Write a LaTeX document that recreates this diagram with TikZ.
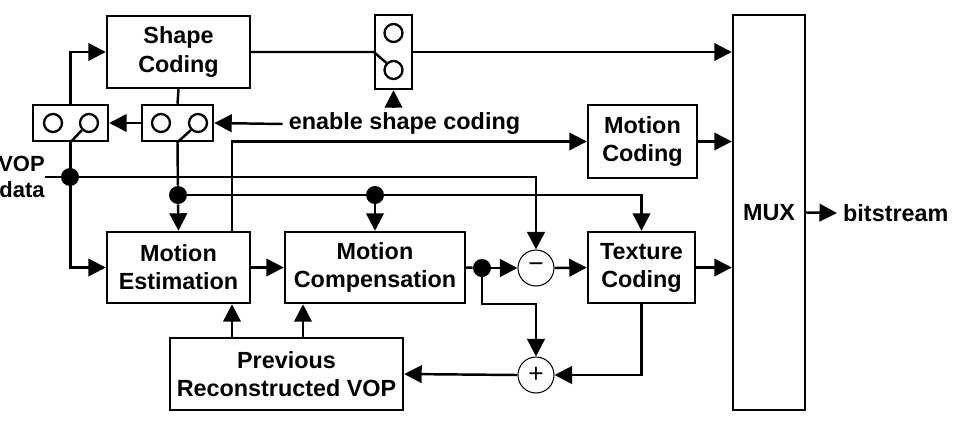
\documentclass[tikz,border=0pt]{standalone}
\usepackage{fontspec}
\setmainfont{Liberation Sans}
\usetikzlibrary{arrows.meta,positioning}
\definecolor{EncInk}{RGB}{0,0,0}
\tikzset{
  enc/box/.style={
    draw=EncInk,
    line width=1.4pt,
    fill=white,
    align=center,
    text=EncInk,
    inner sep=0pt,
    font=\bfseries\fontsize{13.3}{16}\selectfont
  },
  enc/switch/.style={
    draw=EncInk,
    line width=1.4pt,
    fill=white,
    inner sep=0pt
  },
  enc/contact/.style={circle, draw=EncInk, line width=1.3pt, fill=white, minimum size=0.36cm, inner sep=0pt},
  enc/dot/.style={circle, fill=EncInk, minimum size=0.36cm, inner sep=0pt},
  enc/sum/.style={circle, draw=EncInk, line width=0.6pt, fill=white, minimum size=0.72cm, inner sep=0pt, font=\fontsize{15}{15}\selectfont},
  enc/label/.style={font=\bfseries\fontsize{13.3}{16}\selectfont, text=EncInk},
  enc/arrow/.style={-{Triangle[length=0.35cm,width=0.35cm]}, line width=1.4pt, draw=EncInk},
  enc/line/.style={line width=1.4pt, draw=EncInk}
}

\begin{document}
\begin{tikzpicture}[x=0.02cm,y=-0.02cm]
  \useasboundingbox (0,0) rectangle (967,420);

  % blocks
  \node[enc/box, minimum width=2.86cm, minimum height=1.44cm] (sc)  at (178.5,52)  {Shape\\Coding};
  \node[enc/box, minimum width=2.18cm, minimum height=1.46cm] (moc) at (642.5,141.5) {Motion\\Coding};
  \node[enc/box, minimum width=2.86cm, minimum height=1.42cm] (me)  at (178.5,267.5) {Motion\\Estimation};
  \node[enc/box, minimum width=3.60cm, minimum height=1.42cm] (mc)  at (375,267.5) {Motion\\Compensation};
  \node[enc/box, minimum width=2.14cm, minimum height=1.42cm] (tc)  at (641.5,267.5) {Texture\\Coding};
  \node[enc/box, minimum width=4.66cm, minimum height=1.44cm] (prv) at (286.5,374) {Previous\\Reconstructed VOP};
  \node[enc/box, minimum width=1.44cm, minimum height=7.90cm] (mux) at (769,212.5) {MUX};

  % switches
  \node[enc/switch, minimum width=1.50cm, minimum height=0.72cm] (lsw) at (70.5,123) {};
  \node[enc/switch, minimum width=1.42cm, minimum height=0.72cm] (msw) at (177.5,123) {};
  \node[enc/switch, minimum width=0.74cm, minimum height=1.48cm] (tsw) at (393.5,52) {};
  \foreach \name/\x/\y in {lswa/53/123,lswb/89/123,mswa/161/123,mswb/198/123,tswa/393.5/33,tswb/393.5/70}
  {\node[enc/contact] (\name) at (\x,\y) {};}

  % adders and taps
  \node[enc/sum] (minus) at (536,268) {−};
  \node[enc/sum] (plus)  at (536,375) {+};
  \node[enc/dot] (d1) at (70,177) {};
  \node[enc/dot] (d2) at (178,195) {};
  \node[enc/dot] (d3) at (375,195) {};
  \node[enc/dot] (d4) at (482,268) {};
  \coordinate (c1) at (232,0);
  \coordinate (c2) at (303,0);

  % texts
  \node[enc/label, font=\bfseries\fontsize{12.5}{15}\selectfont, align=right, anchor=east, inner xsep=0pt] (vop) at (45,177) {VOP\\data};
  \node[enc/label] (lbl) at (404.5,124) {enable shape coding};
  \node[enc/label, anchor=west] (bits) at (837,213) {bitstream};

  % shape path
  \draw[enc/arrow] (lsw.north) |- (sc.west);
  \draw[enc/line] (sc.south) -- (msw.north);
  \draw[enc/arrow] (msw.west) -- (lsw.east);
  \draw[enc/arrow] (lbl.west) -- (msw.east);
  \draw[enc/arrow] (lbl.north -| tsw.south) -- (tsw.south);
  \draw[enc/line] (lswb.225) -- (lsw.south);
  \draw[enc/line] (mswb.225) -- (msw.south);
  \draw[enc/line] (sc.east) -- (tsw.west) -- (tswb.135);
  \draw[enc/arrow] (tsw.east) -- (tsw.east -| mux.west);

  % motion and texture path
  \draw[enc/arrow] (lsw.south) |- (me.west);
  \draw[enc/line] (msw.south) -- (d2);
  \draw[enc/arrow] (d2) -- (me.north);
  \draw[enc/arrow] (d2) -| (tc.north);
  \draw[enc/arrow] (d3) -- (mc.north);
  \draw[enc/arrow] (vop.east) -| (minus.north);
  \draw[enc/arrow] (me.north -| c1) |- (moc.west);
  \draw[enc/arrow] (moc.east) -- (moc.east -| mux.west);
  \draw[enc/arrow] (me.east) -- (mc.west);
  \draw[enc/line] (mc.east) -- (d4);
  \draw[enc/arrow] (d4) -- (minus.west);
  \draw[enc/arrow] (minus.east) -- (tc.west);
  \draw[enc/arrow] (tc.east) -- (tc.east -| mux.west);
  \draw[enc/arrow] (d4) |- (plus.north |- mc.south) -- (plus.north);
  \draw[enc/arrow] (tc.south) |- (plus.east);
  \draw[enc/arrow] (plus.west) -- (prv.east);
  \draw[enc/arrow] (prv.north -| c1) -- (me.south -| c1);
  \draw[enc/arrow] (prv.north -| c2) -- (mc.south -| c2);
  \draw[enc/arrow] (mux.east) -- (bits.west);
\end{tikzpicture}
\end{document}
